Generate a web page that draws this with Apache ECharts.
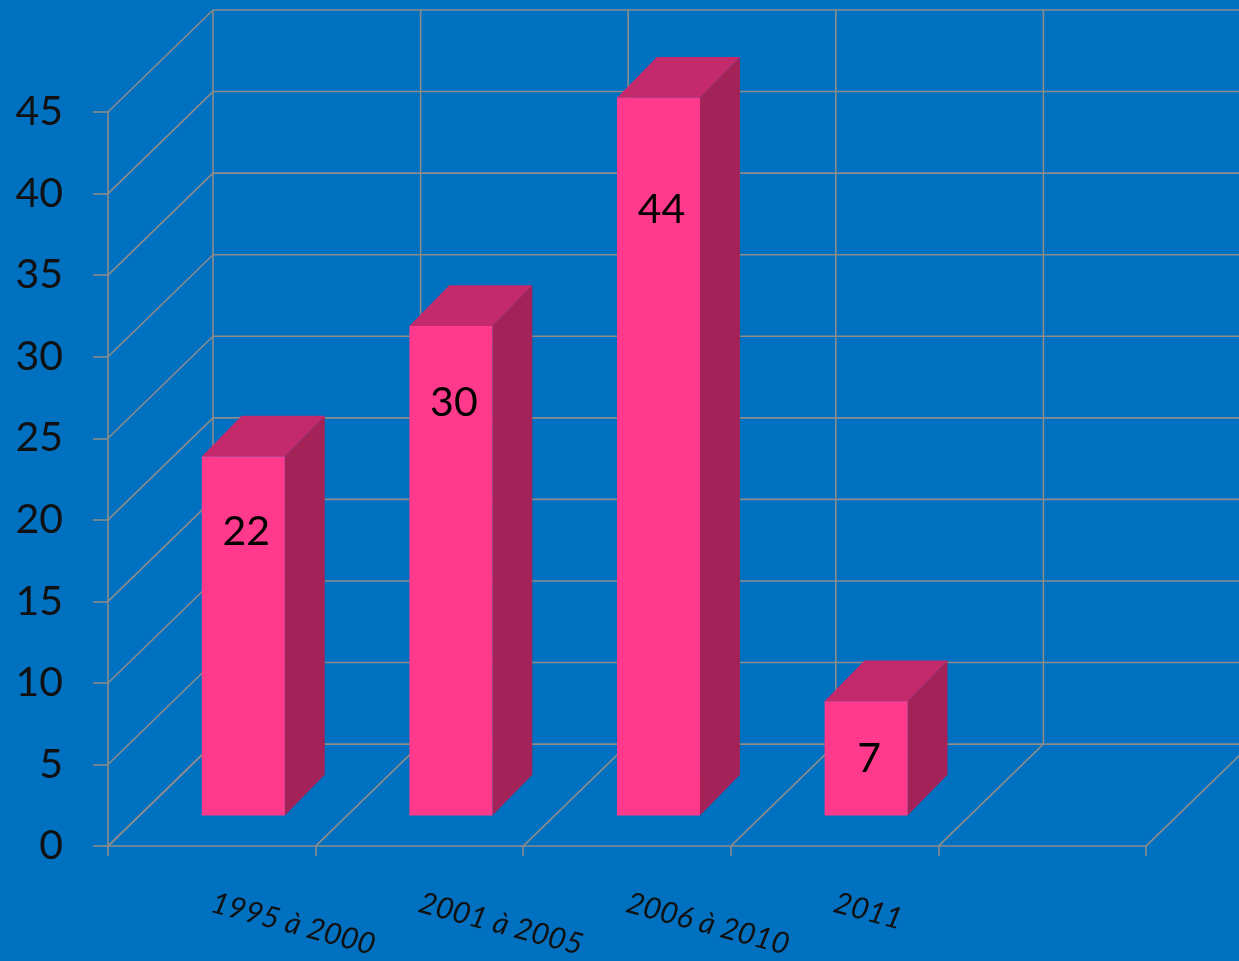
<!DOCTYPE html>
<html>
<head>
<meta charset="utf-8">
<script src="https://cdn.jsdelivr.net/npm/echarts@6/dist/echarts.min.js"></script>
<style>
html,body{margin:0;padding:0;background:#0070C0;}
#chart{width:1239px;height:961px;}
</style>
</head>
<body>
<div id="chart"></div>
<script>
const categories = ['1995 à 2000', '2001 à 2005', '2006 à 2010', '2011', ''];
const values = [22, 30, 44, 7];
const yTicks = [0, 5, 10, 15, 20, 25, 30, 35, 40, 45];
const xBoundaries = [0, 1, 2, 3, 4, 5];

const DX = 105, DY = -102;          // depth of the 3D box
const GRID = '#8c8c8c';
const FONT = 'Lato, "Open Sans", sans-serif';

const chart = echarts.init(document.getElementById('chart'));

function leftEdge(api) {
  const c = api.coord([0, 0]);
  const w = api.size([1, 0])[0];
  return [c[0] - w / 2, c[1], w];
}

const option = {
  backgroundColor: '#0070C0',
  animation: false,
  grid: { left: 108, right: 93, top: 112, bottom: 114, containLabel: false },
  xAxis: {
    type: 'category',
    data: categories,
    axisLine: { show: true, lineStyle: { color: GRID, width: 1.6 } },
    axisTick: { show: true, length: 10, alignWithLabel: false, lineStyle: { color: GRID, width: 1.6 } },
    axisLabel: {
      rotate: -15, margin: 56, color: '#111', fontSize: 30, fontStyle: 'italic',
      fontFamily: FONT, interval: 0
    },
    splitLine: { show: false }
  },
  yAxis: {
    type: 'value', min: 0, max: 45, interval: 5,
    axisLine: { show: true, lineStyle: { color: GRID, width: 1.6 } },
    axisTick: { show: true, length: 15, lineStyle: { color: GRID, width: 1.6 } },
    axisLabel: { margin: 45, color: '#111', fontSize: 41, fontFamily: FONT },
    splitLine: { show: false }
  },
  series: [
    {
      type: 'custom', name: 'wallY', z: 1, silent: true, clip: false,
      data: yTicks.map(v => [0, v]),
      renderItem: function (params, api) {
        const le = leftEdge(api);
        const y = api.coord([0, api.value(1)])[1];
        const x0 = le[0];
        const bx = x0 + DX, by = y + DY;
        return {
          type: 'group',
          children: [
            { type: 'line', shape: { x1: x0, y1: y, x2: bx, y2: by }, style: { stroke: GRID, lineWidth: 1.6 } },
            { type: 'line', shape: { x1: bx, y1: by, x2: api.getWidth(), y2: by }, style: { stroke: GRID, lineWidth: 1.6 } }
          ]
        };
      }
    },
    {
      type: 'custom', name: 'wallX', z: 1, silent: true, clip: false,
      data: xBoundaries.map(b => [0, b]),
      renderItem: function (params, api) {
        const le = leftEdge(api);
        const b = api.value(1);
        const x = le[0] + b * le[2];
        const y0 = api.coord([0, 0])[1];
        const yTop = api.coord([0, yTicks[yTicks.length - 1]])[1];
        return {
          type: 'group',
          children: [
            { type: 'line', shape: { x1: x, y1: y0, x2: x + DX, y2: y0 + DY }, style: { stroke: GRID, lineWidth: 1.6 } },
            { type: 'line', shape: { x1: x + DX, y1: y0 + DY, x2: x + DX, y2: yTop + DY }, style: { stroke: GRID, lineWidth: 1.6 } }
          ]
        };
      }
    },
    {
      type: 'custom', name: 'bars', z: 5, clip: false,
      data: values.map((v, i) => [i, v]),
      renderItem: function (params, api) {
        const i = api.value(0), v = api.value(1);
        const top = api.coord([i, v]);
        const base = api.coord([i, 0]);
        const w = api.size([1, 0])[0];
        const fw = w * 0.4;
        const fx = DX * 0.3, fy = DY * 0.3;
        const dx = DX * 0.38, dy = DY * 0.4;
        const L = top[0] - fw / 2 + fx;
        const T = top[1] + fy;
        const B = base[1] + fy;
        const h = B - T;
        const off = Math.min(Math.max(75, 0.156 * h), h / 2);
        return {
          type: 'group',
          children: [
            { type: 'polygon', shape: { points: [[L + fw, T], [L + fw + dx, T + dy], [L + fw + dx, B + dy], [L + fw, B]] }, style: { fill: '#A32257' } },
            { type: 'polygon', shape: { points: [[L, T], [L + fw, T], [L + fw + dx, T + dy], [L + dx, T + dy]] }, style: { fill: '#C42A6B' } },
            { type: 'rect', shape: { x: L, y: T, width: fw, height: h }, style: { fill: '#FF3A8C' } },
            { type: 'text', x: L + fw / 2 + 3, y: T + off, style: { text: String(v), fill: '#000', font: '41px ' + FONT, align: 'center', verticalAlign: 'middle' } }
          ]
        };
      }
    }
  ]
};
chart.setOption(option);
</script>
</body>
</html>
